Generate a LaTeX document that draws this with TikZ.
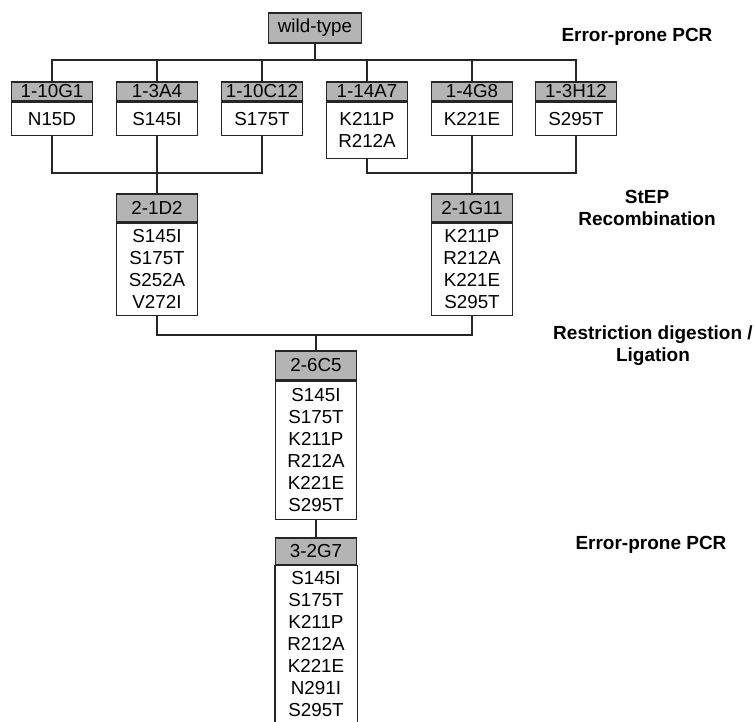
\documentclass[tikz,border=0pt]{standalone}
\usepackage{fontspec}
\setmainfont{Liberation Sans}
\definecolor{hgray}{RGB}{180,180,180}
\tikzset{
  boxfont/.style={font=\fontsize{18.8}{22}\selectfont},
  hdr/.style={draw=black!85, line width=1.5pt, fill=hgray, minimum width=81pt, inner sep=0pt, anchor=north, boxfont},
  bod/.style={draw=black!85, line width=1.5pt, fill=white, minimum width=81pt, inner sep=0pt, anchor=north, align=center, boxfont},
  lbl/.style={font=\bfseries\fontsize{19}{22}\selectfont, align=center, inner sep=0pt},
  conn/.style={draw=black!85, line width=1.5pt}
}
\begin{document}
\begin{tikzpicture}[x=1pt,y=-1pt]
\useasboundingbox (0,0) rectangle (755,721);
\clip (0,0) rectangle (755,721);
% root
\node[hdr, minimum width=93pt, minimum height=30pt, anchor=center] (wt) at (315,28) {wild-type};
% row 1
\node[hdr, minimum height=19pt] (h1) at (52,81) {1-10G1};
\node[bod, minimum height=33pt] (b1) at (h1.south) {N15D};
\node[hdr, minimum height=19pt] (h2) at (157,81) {1-3A4};
\node[bod, minimum height=33pt] (b2) at (h2.south) {S145I};
\node[hdr, minimum height=19pt] (h3) at (262,81) {1-10C12};
\node[bod, minimum height=33pt] (b3) at (h3.south) {S175T};
\node[hdr, minimum height=19pt] (h4) at (367,81) {1-14A7};
\node[bod, minimum height=56pt] (b4) at (h4.south) {K211P\\R212A};
\node[hdr, minimum height=19pt] (h5) at (472,81) {1-4G8};
\node[bod, minimum height=33pt] (b5) at (h5.south) {K221E};
\node[hdr, minimum height=19pt] (h6) at (576,81) {1-3H12};
\node[bod, minimum height=33pt] (b6) at (h6.south) {S295T};
% row 2
\node[hdr, minimum height=28pt] (h21) at (157,193) {2-1D2};
\node[bod, minimum height=92pt] (b21) at (h21.south) {S145I\\S175T\\S252A\\V272I};
\node[hdr, minimum height=28pt] (h22) at (472,193) {2-1G11};
\node[bod, minimum height=92pt] (b22) at (h22.south) {K211P\\R212A\\K221E\\S295T};
% row 3
\node[hdr, minimum height=29pt] (h31) at (316,350) {2-6C5};
\node[bod, minimum height=138pt] (b31) at (h31.south) {S145I\\S175T\\K211P\\R212A\\K221E\\S295T};
% row 4 (box runs off the bottom edge)
\node[hdr, minimum height=27pt] (h41) at (316,537) {3-2G7};
\node[bod, draw=none, minimum height=155pt] (b41) at (h41.south) {S145I\\S175T\\K211P\\R212A\\K221E\\N291I\\S295T};
\draw[conn] ([yshift=-12pt]b41.south west) -- (b41.north west) -- (b41.north east) -- ([yshift=-12pt]b41.south east);
% junction coordinates
\coordinate (bus) at (315,60);
\coordinate (j1) at (157,173);
\coordinate (j2) at (472,173);
\coordinate (j3) at (316,335);
% connectors
\draw[conn] (wt.south) -- (bus);
\draw[conn] (h1.north) |- (bus);
\draw[conn] (h6.north) |- (bus);
\draw[conn] (h2.north) -- (h2.north |- bus);
\draw[conn] (h3.north) -- (h3.north |- bus);
\draw[conn] (h4.north) -- (h4.north |- bus);
\draw[conn] (h5.north) -- (h5.north |- bus);
\draw[conn] (b1.south) |- (j1);
\draw[conn] (b3.south) |- (j1);
\draw[conn] (b2.south) -- (h21.north);
\draw[conn] (b4.south) |- (j2);
\draw[conn] (b6.south) |- (j2);
\draw[conn] (b5.south) -- (h22.north);
\draw[conn] (b21.south) |- (j3);
\draw[conn] (b22.south) |- (j3);
\draw[conn] (j3) -- (h31.north);
\draw[conn] (b31.south) -- (h41.north);
% labels
\node[lbl] (l1) at (637,37) {Error-prone PCR};
\node[lbl] (l2) at (647,208) {StEP\\Recombination};
\node[lbl] (l3) at (653,346) {Restriction digestion /\\Ligation};
\node[lbl] (l4) at (651,545) {Error-prone PCR};
\end{tikzpicture}
\end{document}
